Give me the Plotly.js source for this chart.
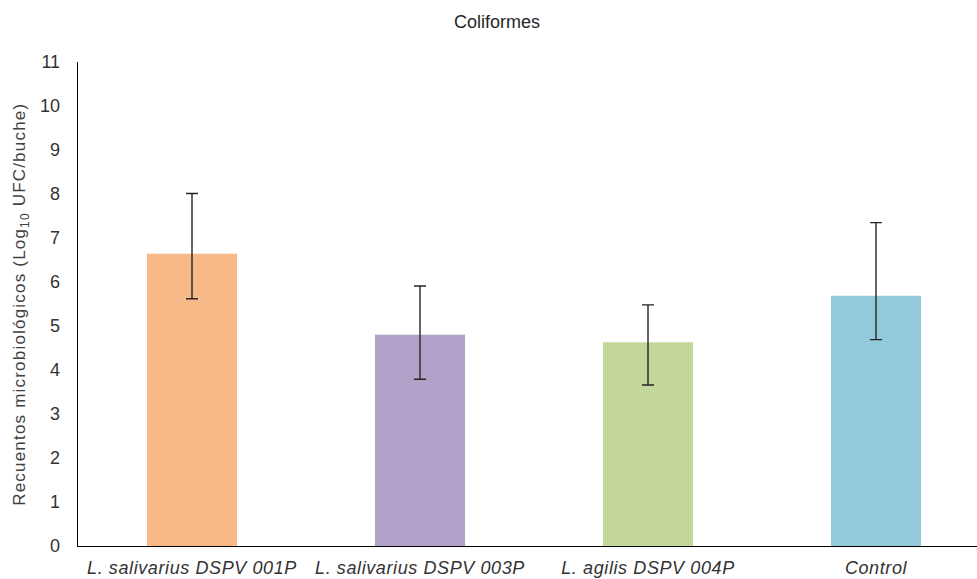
<!DOCTYPE html>
<html>
<head>
<meta charset="utf-8">
<script src="https://cdn.plot.ly/plotly-3.0.1.min.js"></script>
<style>
  html, body { margin: 0; padding: 0; background: #ffffff; }
  #chart { width: 977px; height: 579px; }
  /* slightly looser lettering for the axis texts */
  #chart .xtick text { letter-spacing: 0.6px; }
  #chart .annotation-text { letter-spacing: 1.2px; }
</style>
</head>
<body>
<div id="chart"></div>
<script>
// Coliform counts per treatment (Log10 UFC/buche)
const categories = [
  "L. salivarius DSPV 001P",
  "L. salivarius DSPV 003P",
  "L. agilis DSPV 004P",
  "Control"
];
const means = [6.64, 4.80, 4.63, 5.69];
const errorPlus = [1.37, 1.11, 0.85, 1.66];
const errorMinus = [1.02, 1.01, 0.97, 1.00];
const barColors = ["#F6B987", "#B1A0C7", "#C4D79B", "#92C9DB"];
const yTicks = [0, 1, 2, 3, 4, 5, 6, 7, 8, 9, 10, 11];
const yTitle = "Recuentos microbiológicos (Log<sub>10</sub> UFC/buche)";

const font = '"Liberation Sans", Arial, sans-serif';

const trace = {
  type: "bar",
  x: categories,
  y: means,
  width: 0.395,
  marker: { color: barColors, line: { width: 0 } },
  error_y: {
    type: "data",
    symmetric: false,
    array: errorPlus,
    arrayminus: errorMinus,
    color: "#2a2226",
    thickness: 1.4,
    width: 6
  },
  hoverinfo: "skip"
};

const layout = {
  width: 977,
  height: 579,
  margin: { l: 78, r: 0, t: 62, b: 33 },
  paper_bgcolor: "#ffffff",
  plot_bgcolor: "#ffffff",
  showlegend: false,
  title: {
    text: "Coliformes",
    font: { family: font, size: 18, color: "#262626" },
    xref: "container",
    yref: "container",
    x: 497 / 977,
    xanchor: "center",
    y: 1 - 22 / 579,
    yanchor: "middle"
  },
  xaxis: {
    type: "category",
    range: [-0.5, 3.443],
    showline: true,
    linecolor: "#000000",
    linewidth: 1.3,
    showgrid: false,
    zeroline: false,
    ticks: "",
    ticklabelstandoff: 5,
    tickfont: { family: font, size: 18, color: "#333333", style: "italic" },
    fixedrange: true
  },
  yaxis: {
    range: [0, 11],
    tickvals: yTicks,
    ticktext: yTicks.map(String),
    showline: true,
    linecolor: "#000000",
    linewidth: 1.3,
    showgrid: false,
    zeroline: false,
    ticks: "",
    ticklabelstandoff: 13,
    tickfont: { family: font, size: 18, color: "#333333" },
    automargin: false,
    fixedrange: true
  },
  // vertical axis title, placed at the far left of the figure
  annotations: [{
    text: yTitle,
    textangle: -90,
    xref: "paper",
    yref: "paper",
    x: 0,
    y: 0.5,
    xshift: -57,
    xanchor: "center",
    yanchor: "middle",
    showarrow: false,
    font: { family: font, size: 17, color: "#404040" }
  }]
};

Plotly.newPlot("chart", [trace], layout, { staticPlot: true, displayModeBar: false });
</script>
</body>
</html>
